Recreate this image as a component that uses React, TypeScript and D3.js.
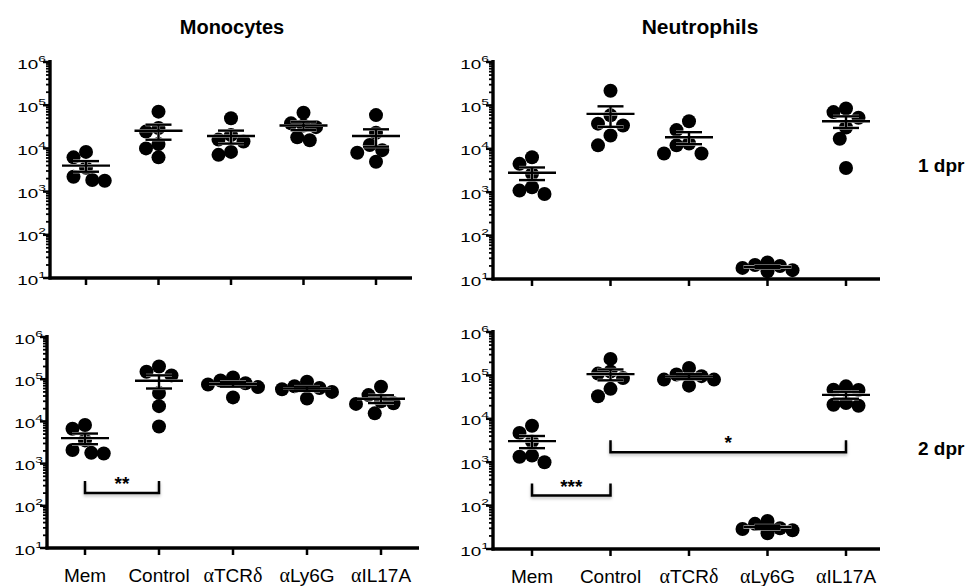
import React from "react";
import * as d3 from "d3";

const categories = ["Mem", "Control", "αTCRδ", "αLy6G", "αIL17A"];
const tickExponents = [1, 2, 3, 4, 5, 6];
const rowLabels = ["1 dpr", "2 dpr"];
const columnTitles = ["Monocytes", "Neutrophils"];

// cells per sample (6 animals per group)
const monocytes1 = [
    [8300, 6200, 2200, 1860, 1790, 3550],
    [71000, 29600, 24500, 12600, 10000, 6200],
    [50000, 14500, 20300, 16000, 7100, 8300],
    [67000, 31000, 38000, 34000, 15500, 18000],
    [59000, 23000, 9100, 12000, 7900, 4900]
];
const neutrophils1 = [
    [4500, 6400, 1300, 910, 1090, 2650],
    [218000, 59000, 34500, 38000, 20300, 12000],
    [43000, 27000, 12000, 13200, 7800, 7800],
    [21, 15, 20, 16, 24, 18],
    [85000, 70000, 52000, 31000, 17000, 3600]
];
const monocytes2 = [
    [8200, 6700, 2100, 1740, 1800, 3550],
    [200000, 123000, 150000, 47000, 23000, 7600],
    [93000, 80000, 110000, 65000, 37000, 75000],
    [68000, 62000, 87000, 50000, 35000, 58000],
    [66000, 42000, 27000, 30000, 26000, 15500]
];
const neutrophils2 = [
    [4700, 6900, 1420, 1000, 1340, 3000],
    [240000, 123000, 110000, 87000, 49000, 33000],
    [105000, 58000, 96000, 80000, 148000, 80000],
    [38, 23, 30, 27, 44, 29],
    [56000, 47000, 46000, 23000, 20000, 21000]
];

// significance brackets: from/to category, value of the bar, label
const monocytes2Sig = [{ from: "Mem", to: "Control", value: 200, label: "**" }];
const neutrophils2Sig = [
    { from: "Mem", to: "Control", value: 170, label: "***" },
    { from: "Control", to: "αIL17A", value: 1700, label: "*" }
];

const FONT = "'Liberation Sans', Arial, Helvetica, sans-serif";
const SERIF = "'Liberation Serif', 'Times New Roman', serif";

const panels = [
    { data: monocytes1, sig: [], axisX: 50, top: 62, bottom: 278, xEnd: 412, x0: 86, x1: 376, labels: false },
    { data: neutrophils1, sig: [], axisX: 493, top: 62, bottom: 279, xEnd: 880, x0: 532, x1: 846, labels: false },
    { data: monocytes2, sig: monocytes2Sig, axisX: 47, top: 337, bottom: 548, xEnd: 419, x0: 85, x1: 381, labels: true },
    { data: neutrophils2, sig: neutrophils2Sig, axisX: 493, top: 332, bottom: 549, xEnd: 880, x0: 532, x1: 846, labels: true }
];

const R = 7;
const SPACING = 12.5;

// simple dodge so dots with close values sit side by side
function dodge(ys: number[]) {
    const order = d3.range(ys.length).sort((a, b) => ys[a] - ys[b]);
    const placed: { dx: number; y: number }[] = [];
    const out = new Array(ys.length).fill(0);
    const candidates = [0, -0.5, 0.5, -1, 1, -1.5, 1.5, -2, 2, -2.5, 2.5].map(k => k * SPACING);
    order.forEach(i => {
        const y = ys[i];
        const dx =
            candidates.find(c => placed.every(p => Math.hypot(p.dx - c, p.y - y) >= SPACING - 0.01)) ?? 0;
        placed.push({ dx, y });
        out[i] = dx;
    });
    return out;
}

const CategoryLabel = ({ text, x, y }) => {
    const parts = text.split(/([αδ])/).filter(s => s.length);
    return (
        <text x={x} y={y} textAnchor="middle" fontSize={19} fontFamily={FONT}>
            {parts.map((p, i) => (
                <tspan key={i} fontFamily={/[αδ]/.test(p) ? SERIF : FONT} fontSize={/[αδ]/.test(p) ? 20 : 19}>
                    {p}
                </tspan>
            ))}
        </text>
    );
};

const Panel = ({ p }) => {
    const y = d3.scaleLog().domain([10, 1e6]).range([p.bottom, p.top]);
    const x = d3.scalePoint().domain(categories).range([p.x0, p.x1]);

    const minor: number[] = [];
    for (let e = 1; e < 6; e++) for (let m = 2; m < 10; m++) minor.push(m * Math.pow(10, e));

    return (
        <g>
            {/* y axis */}
            {minor.map(v => (
                <line key={v} x1={p.axisX - 4} x2={p.axisX} y1={y(v)} y2={y(v)} stroke="#000" strokeWidth={1.8} />
            ))}
            {tickExponents.map(e => (
                <g key={e}>
                    <line x1={p.axisX - 7} x2={p.axisX} y1={y(Math.pow(10, e))} y2={y(Math.pow(10, e))} stroke="#000" strokeWidth={2.5} />
                    {/* the original's tick labels are stretched sideways */}
                    <text
                        transform={`translate(${p.axisX - 4},${y(Math.pow(10, e)) + 6.5}) scale(1.45,1)`}
                        textAnchor="end"
                        fontFamily={FONT}
                        fontSize={13}
                    >
                        10
                        <tspan fontSize={9.5} dy={-7}>{e}</tspan>
                    </text>
                </g>
            ))}
            <line x1={p.axisX} x2={p.axisX} y1={p.top - 2} y2={p.bottom + 1.5} stroke="#000" strokeWidth={3.4} />

            {/* x axis */}
            <line x1={p.axisX - 1.5} x2={p.xEnd} y1={p.bottom} y2={p.bottom} stroke="#000" strokeWidth={3.4} />
            {categories.map(c => (
                <line key={c} x1={x(c)} x2={x(c)} y1={p.bottom} y2={p.bottom + 7} stroke="#000" strokeWidth={2.5} />
            ))}
            {p.labels &&
                categories.map(c => <CategoryLabel key={c} text={c} x={x(c)} y={p.bottom + 34} />)}

            {/* dots with mean and SEM */}
            {p.data.map((vals, i) => {
                const cx = x(categories[i]);
                const ys = vals.map(v => y(v));
                const dxs = dodge(ys);
                const mean = d3.mean(vals);
                const sem = d3.deviation(vals) / Math.sqrt(vals.length);
                const ym = y(mean);
                const yHi = y(mean + sem);
                const yLo = y(Math.max(mean - sem, 1));
                const bars = [
                    { x1: cx - 24, x2: cx + 24, y1: ym, y2: ym },
                    { x1: cx - 13, x2: cx + 13, y1: yHi, y2: yHi },
                    { x1: cx - 13, x2: cx + 13, y1: yLo, y2: yLo },
                    { x1: cx, x2: cx, y1: yHi, y2: yLo }
                ];
                return (
                    <g key={i}>
                        {vals.map((v, j) => (
                            <circle key={j} cx={cx + dxs[j]} cy={ys[j]} r={R} fill="#000" />
                        ))}
                        {bars.map((b, k) => (
                            <line key={"h" + k} {...b} stroke="#fff" strokeWidth={3.1} />
                        ))}
                        {bars.map((b, k) => (
                            <line key={"b" + k} {...b} stroke="#000" strokeWidth={2.4} />
                        ))}
                    </g>
                );
            })}

            {/* significance */}
            {p.sig.map((s, i) => {
                const xa = x(s.from);
                const xb = x(s.to);
                const yb = y(s.value);
                return (
                    <g key={i}>
                        <path
                            d={`M${xa},${yb - 12}V${yb}H${xb}V${yb - 12}`}
                            fill="none"
                            stroke="#000"
                            strokeWidth={2.5}
                            filter="url(#bracketShadow)"
                        />
                        <text x={(xa + xb) / 2} y={yb - 3} textAnchor="middle" fontFamily={FONT} fontSize={19} fontWeight="bold">
                            {s.label}
                        </text>
                    </g>
                );
            })}
        </g>
    );
};

const App = () => {
    return (
        <svg
            width={976}
            height={586}
            style={{ position: "absolute", left: 0, top: 0, background: "#fff" }}
        >
            <defs>
                <filter id="bracketShadow" x="-10%" y="-50%" width="120%" height="200%">
                    <feDropShadow dx="0" dy="2" stdDeviation="1.5" floodColor="#000" floodOpacity="0.25" />
                </filter>
            </defs>
            {panels.map((p, i) => (
                <Panel key={i} p={p} />
            ))}
            <text x={232} y={34} textAnchor="middle" fontFamily={FONT} fontWeight="bold" fontSize={20}>
                {columnTitles[0]}
            </text>
            <text x={700} y={34} textAnchor="middle" fontFamily={FONT} fontWeight="bold" fontSize={21}>
                {columnTitles[1]}
            </text>
            <text x={918} y={172} fontFamily={FONT} fontWeight="bold" fontSize={19}>
                {rowLabels[0]}
            </text>
            <text x={918} y={455} fontFamily={FONT} fontWeight="bold" fontSize={19}>
                {rowLabels[1]}
            </text>
        </svg>
    );
};

export default App;
